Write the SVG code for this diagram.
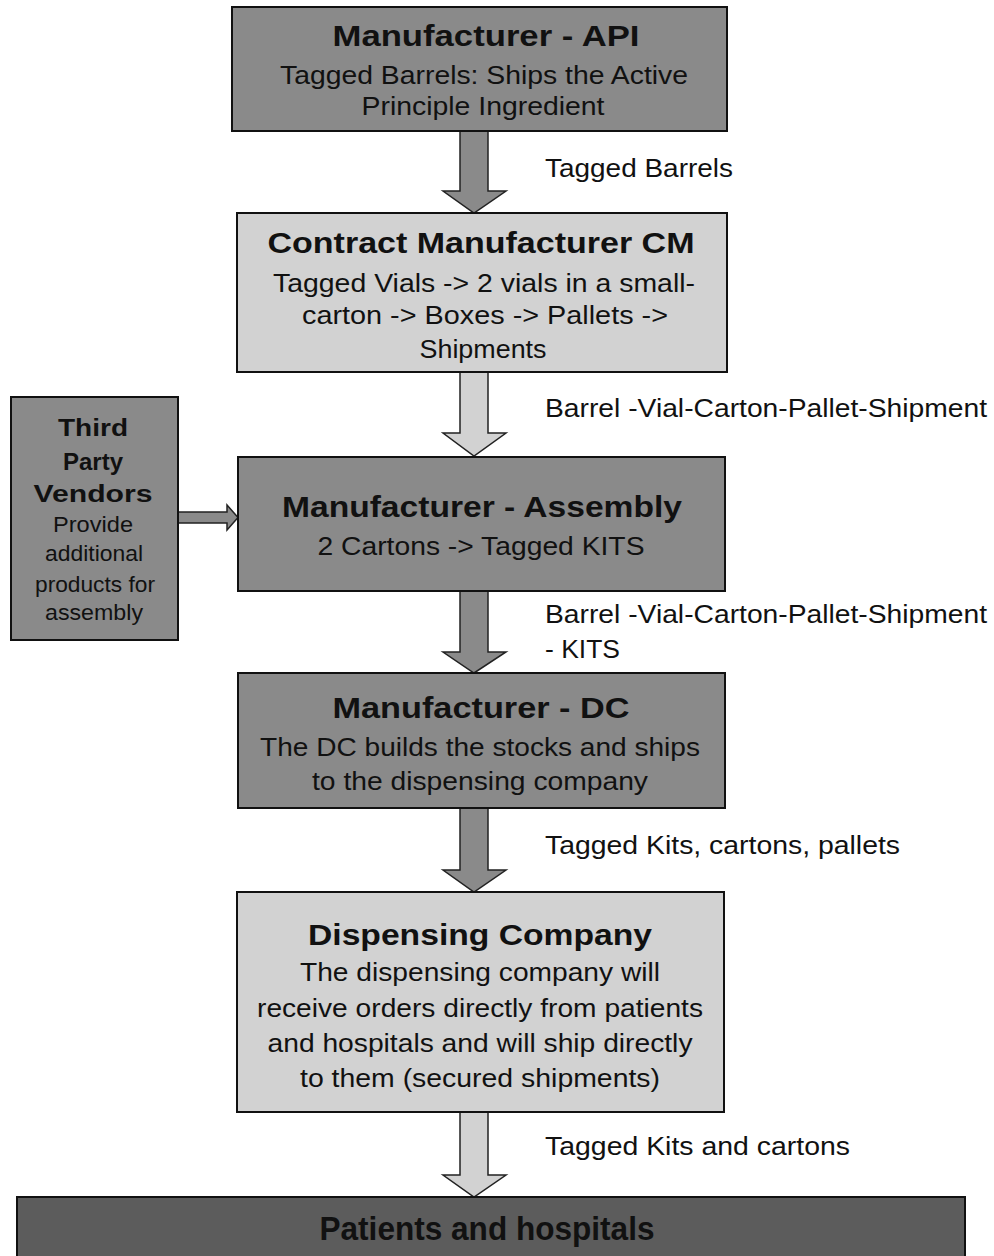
<svg xmlns="http://www.w3.org/2000/svg" width="994" height="1256" viewBox="0 0 994 1256">
<style>
.dark{fill:#8a8a8a;stroke:#111;stroke-width:2}
.light{fill:#d2d2d2;stroke:#111;stroke-width:2}
.deep{fill:#5c5c5c;stroke:#111;stroke-width:2}
.adark{fill:#8a8a8a;stroke:#222;stroke-width:1.5}
.alight{fill:#d2d2d2;stroke:#222;stroke-width:1.5}
text{font-family:"Liberation Sans",Arial,sans-serif;fill:#111;text-anchor:middle}
.t{font-size:29px;font-weight:bold}
.b{font-size:25px}
.l{font-size:25px;text-anchor:start}
.s{font-size:23px;font-weight:bold}
.sb{font-size:22px}
.p{font-size:34px;font-weight:bold}
</style>
<rect width="994" height="1256" fill="#fff"/>
<g id="connectors">
<polygon class="adark" points="460,131 488,131 488,191 506,191 474,213 443,191 460,191"/>
<polygon class="alight" points="460,372 488,372 488,433 506,433 474,456 443,433 460,433"/>
<polygon class="adark" points="460,591 488,591 488,652 506,652 474,673 443,652 460,652"/>
<polygon class="adark" points="460,808 488,808 488,870 506,870 474,892 443,870 460,870"/>
<polygon class="alight" points="460,1112 488,1112 488,1175 506,1175 474,1197 443,1175 460,1175"/>
<polygon class="adark" points="178,512 227,512 227,505 238,517.5 227,530 227,523 178,523"/>
<text class="l" x="545" y="177" textLength="188" lengthAdjust="spacingAndGlyphs">Tagged Barrels</text>
<text class="l" x="545" y="417" textLength="442" lengthAdjust="spacingAndGlyphs">Barrel -Vial-Carton-Pallet-Shipment</text>
<text class="l" x="545" y="623" textLength="442" lengthAdjust="spacingAndGlyphs">Barrel -Vial-Carton-Pallet-Shipment</text>
<text class="l" x="545" y="658" textLength="75" lengthAdjust="spacingAndGlyphs">- KITS</text>
<text class="l" x="545" y="854" textLength="355" lengthAdjust="spacingAndGlyphs">Tagged Kits, cartons, pallets</text>
<text class="l" x="545" y="1155" textLength="305" lengthAdjust="spacingAndGlyphs">Tagged Kits and cartons</text>
</g>
<g id="api">
<rect class="dark" x="232" y="7" width="495" height="124"/>
<text class="t" x="486" y="46" textLength="307" lengthAdjust="spacingAndGlyphs">Manufacturer - API</text>
<text class="b" x="484" y="84" textLength="408" lengthAdjust="spacingAndGlyphs">Tagged Barrels: Ships the Active</text>
<text class="b" x="483" y="115" textLength="243" lengthAdjust="spacingAndGlyphs">Principle Ingredient</text>
</g>
<g id="cm">
<rect class="light" x="237" y="213" width="490" height="159"/>
<text class="t" x="481" y="253" textLength="427" lengthAdjust="spacingAndGlyphs">Contract Manufacturer CM</text>
<text class="b" x="484" y="292" textLength="422" lengthAdjust="spacingAndGlyphs">Tagged Vials -&gt; 2 vials in a small-</text>
<text class="b" x="485" y="324" textLength="366" lengthAdjust="spacingAndGlyphs">carton -&gt; Boxes -&gt; Pallets -&gt;</text>
<text class="b" x="483" y="358" textLength="127" lengthAdjust="spacingAndGlyphs">Shipments</text>
</g>
<g id="vendors">
<rect class="dark" x="11" y="397" width="167" height="243"/>
<text class="s" x="93" y="436" textLength="70" lengthAdjust="spacingAndGlyphs">Third</text>
<text class="s" x="93" y="470" textLength="60" lengthAdjust="spacingAndGlyphs">Party</text>
<text class="s" x="93" y="502" textLength="119" lengthAdjust="spacingAndGlyphs">Vendors</text>
<text class="sb" x="93" y="532" textLength="80" lengthAdjust="spacingAndGlyphs">Provide</text>
<text class="sb" x="94" y="561" textLength="98" lengthAdjust="spacingAndGlyphs">additional</text>
<text class="sb" x="95" y="592" textLength="120" lengthAdjust="spacingAndGlyphs">products for</text>
<text class="sb" x="94" y="620" textLength="98" lengthAdjust="spacingAndGlyphs">assembly</text>
</g>
<g id="assembly">
<rect class="dark" x="238" y="457" width="487" height="134"/>
<text class="t" x="482" y="517" textLength="400" lengthAdjust="spacingAndGlyphs">Manufacturer - Assembly</text>
<text class="b" x="481" y="555" textLength="327" lengthAdjust="spacingAndGlyphs">2 Cartons -&gt; Tagged KITS</text>
</g>
<g id="dc">
<rect class="dark" x="238" y="673" width="487" height="135"/>
<text class="t" x="481" y="718" textLength="297" lengthAdjust="spacingAndGlyphs">Manufacturer - DC</text>
<text class="b" x="480" y="756" textLength="440" lengthAdjust="spacingAndGlyphs">The DC builds the stocks and ships</text>
<text class="b" x="480" y="790" textLength="336" lengthAdjust="spacingAndGlyphs">to the dispensing company</text>
</g>
<g id="dispensing">
<rect class="light" x="237" y="892" width="487" height="220"/>
<text class="t" x="480" y="945" textLength="344" lengthAdjust="spacingAndGlyphs">Dispensing Company</text>
<text class="b" x="480" y="981" textLength="360" lengthAdjust="spacingAndGlyphs">The dispensing company will</text>
<text class="b" x="480" y="1017" textLength="446" lengthAdjust="spacingAndGlyphs">receive orders directly from patients</text>
<text class="b" x="480" y="1052" textLength="425" lengthAdjust="spacingAndGlyphs">and hospitals and will ship directly</text>
<text class="b" x="480" y="1087" textLength="360" lengthAdjust="spacingAndGlyphs">to them (secured shipments)</text>
</g>
<g id="patients">
<rect class="deep" x="17" y="1197" width="948" height="70"/>
<text class="p" x="487" y="1240" textLength="335" lengthAdjust="spacingAndGlyphs">Patients and hospitals</text>
</g>
</svg>
